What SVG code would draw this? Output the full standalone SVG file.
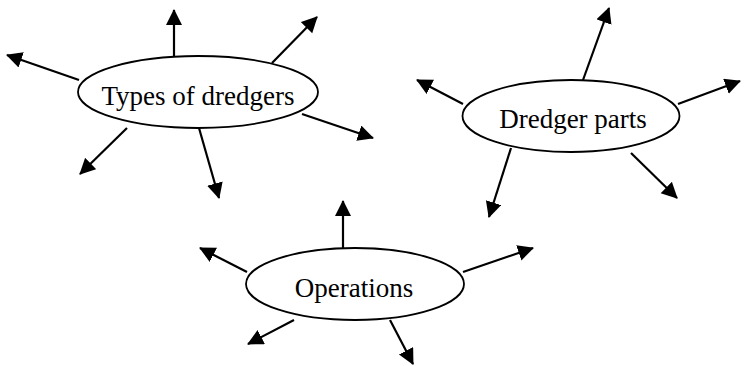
<svg xmlns="http://www.w3.org/2000/svg" width="744" height="366" viewBox="0 0 744 366">
<style>
.node ellipse{fill:#fff;stroke:#000;stroke-width:1.8}
.node text{font-family:"Liberation Serif","Times New Roman",serif;font-size:27px;fill:#000;text-anchor:middle}
.arrows line{stroke:#000;stroke-width:2.2;marker-end:url(#ah)}
</style>
<defs>
<marker id="ah" markerUnits="userSpaceOnUse" markerWidth="17" markerHeight="17" refX="15" refY="8" orient="auto">
<path d="M0,0 L16,8 L0,16 z" fill="#000"/>
</marker>
</defs>
<rect width="744" height="366" fill="#fff"/>
<g id="connectors" class="arrows">
<line x1="174" y1="56" x2="174" y2="10"/>
<line x1="272" y1="63" x2="317" y2="17"/>
<line x1="79" y1="80" x2="7" y2="55"/>
<line x1="302" y1="114" x2="373" y2="138"/>
<line x1="127" y1="128" x2="80" y2="174"/>
<line x1="199" y1="128" x2="219" y2="198"/>
<line x1="583" y1="80" x2="609" y2="8"/>
<line x1="463" y1="104" x2="417" y2="80"/>
<line x1="678" y1="104" x2="740" y2="81"/>
<line x1="631" y1="153" x2="677" y2="198"/>
<line x1="511" y1="148" x2="489" y2="217"/>
<line x1="343" y1="248" x2="343" y2="201"/>
<line x1="247" y1="272" x2="200" y2="248"/>
<line x1="463" y1="272" x2="533" y2="248"/>
<line x1="294" y1="320" x2="248" y2="344"/>
<line x1="390" y1="320" x2="413" y2="364"/>
</g>
<g id="types" class="node">
<ellipse cx="198" cy="92" rx="120" ry="36"/>
<text x="198" y="105">Types of dredgers</text>
</g>
<g id="parts" class="node">
<ellipse cx="571" cy="116" rx="108.5" ry="36"/>
<text x="573" y="128">Dredger parts</text>
</g>
<g id="operations" class="node">
<ellipse cx="355" cy="284" rx="109" ry="36"/>
<text x="354" y="297">Operations</text>
</g>
</svg>
